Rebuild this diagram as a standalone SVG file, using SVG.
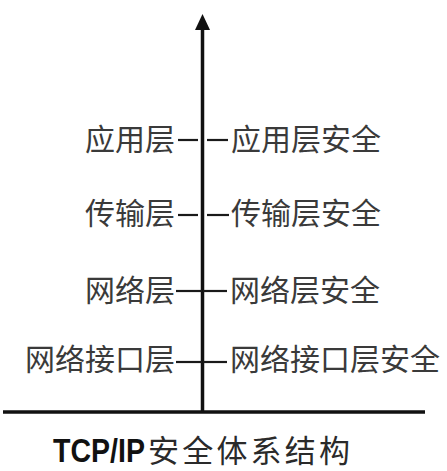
<svg xmlns="http://www.w3.org/2000/svg" width="447" height="471" viewBox="0 0 447 471">
<style>
.lbl{font-family:"Noto Sans CJK SC","Noto Sans",sans-serif;font-size:30px;fill:#3a3a3a}
.l{text-anchor:end}
.dash{stroke:#1a1a1a;stroke-width:2.2}
.axis{stroke:#111;stroke-width:3.5;fill:none}
</style>
<rect width="447" height="471" fill="#fff"/>
<g id="connectors">
<line class="axis" x1="3" y1="412" x2="425" y2="412"/>
<line class="axis" x1="202.5" y1="412" x2="202.5" y2="26"/>
<polygon points="202.5,14 195,30 210,30" fill="#111"/>
<line class="dash" x1="178" y1="140" x2="198" y2="140"/>
<line class="dash" x1="207" y1="140" x2="228" y2="140"/>
<line class="dash" x1="178" y1="215" x2="198" y2="215"/>
<line class="dash" x1="207" y1="215" x2="229" y2="215"/>
<line class="dash" x1="176" y1="291" x2="202" y2="291"/>
<line class="dash" x1="203" y1="291" x2="227" y2="291"/>
<line class="dash" x1="176" y1="362" x2="202" y2="362"/>
<line class="dash" x1="203" y1="362" x2="227" y2="362"/>
</g>
<g id="app"><text class="lbl l" x="175" y="150">应用层</text></g>
<g id="app-sec"><text class="lbl" x="231" y="150">应用层安全</text></g>
<g id="transport"><text class="lbl l" x="175" y="224">传输层</text></g>
<g id="transport-sec"><text class="lbl" x="231" y="224">传输层安全</text></g>
<g id="network"><text class="lbl l" x="175" y="301">网络层</text></g>
<g id="network-sec"><text class="lbl" x="230" y="301">网络层安全</text></g>
<g id="link"><text class="lbl l" x="175" y="370">网络接口层</text></g>
<g id="link-sec"><text class="lbl" x="230" y="370">网络接口层安全</text></g>
<g id="title">
<text transform="translate(53,462) scale(0.865,1)" x="0" y="0" font-family="Liberation Sans,Arial,sans-serif" font-weight="bold" font-size="33" fill="#111">TCP/IP</text>
<text x="148" y="462" font-family="Noto Sans CJK SC,sans-serif" font-size="31" fill="#2a2a2a" letter-spacing="3.2">安全体系结构</text>
</g>
</svg>
